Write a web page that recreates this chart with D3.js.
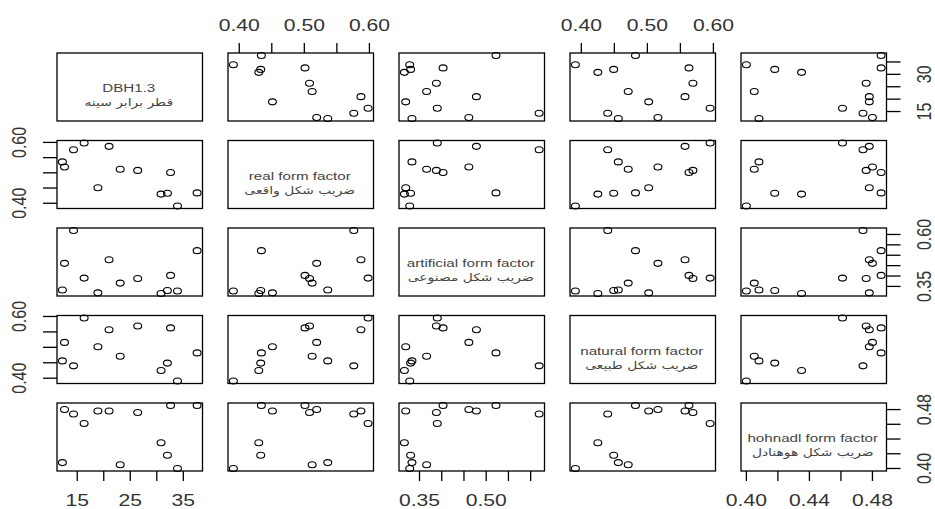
<!DOCTYPE html>
<html>
<head>
<meta charset="utf-8">
<script src="https://cdnjs.cloudflare.com/ajax/libs/d3/7.8.5/d3.min.js"></script>
<style>
  body { margin: 0; background: #fff; }
  text { font-family: "Liberation Sans", Arial, "DejaVu Sans", sans-serif; fill: #333; }
  .diag { fill: #444; }
  .fa { font-family: "DejaVu Sans", sans-serif; fill: #444; }
</style>
</head>
<body>
<div id="chart"></div>
<script>
const dbh        = [12.2, 12.6, 14.3, 16.3, 21.0, 18.9, 23.1, 26.4, 32.6, 30.8, 32.0, 33.9, 37.6];
const realFF     = [0.536, 0.519, 0.576, 0.598, 0.587, 0.451, 0.512, 0.508, 0.501, 0.430, 0.433, 0.391, 0.434];
const artFF      = [0.333, 0.461, 0.619, 0.390, 0.478, 0.319, 0.366, 0.388, 0.403, 0.316, 0.330, 0.328, 0.522];
const naturalFF  = [0.456, 0.516, 0.440, 0.595, 0.557, 0.502, 0.471, 0.569, 0.563, 0.425, 0.449, 0.391, 0.482];
const hohnadlFF  = [0.408, 0.480, 0.474, 0.461, 0.478, 0.478, 0.405, 0.476, 0.4855, 0.435, 0.418, 0.400, 0.4855];

const labelsEn = ['DBH1.3', 'real form factor', 'artificial form factor', 'natural form factor', 'hohnadl form factor'];
const labelsFa = ['قطر برابر سینه', 'ضریب شکل واقعی', 'ضریب شکل مصنوعی', 'ضریب شکل طبیعی', 'ضریب شکل هوهنادل'];

// tick marks and the labels R kept on horizontal / vertical axes
const ticks = [
  [15, 20, 25, 30, 35],
  [0.40, 0.45, 0.50, 0.55, 0.60],
  [0.35, 0.40, 0.45, 0.50, 0.55, 0.60],
  [0.40, 0.45, 0.50, 0.55, 0.60],
  [0.40, 0.42, 0.44, 0.46, 0.48]
];
const hLabels = [[15, 25, 35], [0.40, 0.50, 0.60], [0.35, 0.50], [0.40, 0.50, 0.60], [0.40, 0.44, 0.48]];
const vLabels = [[15, 30], [0.40, 0.60], [0.35, 0.60], [0.40, 0.60], [0.40, 0.48]];
const fmt = [d3.format('d'), d3.format('.2f'), d3.format('.2f'), d3.format('.2f'), d3.format('.2f')];

const series = [dbh, realFF, artFF, naturalFF, hohnadlFF];
const n = series.length;

const width = 935, height = 509;
const gridLeft = 57, gridTop = 53, pw = 145.5, ph = 68, pitchX = 171, pitchY = 87.5;
const SX = 1.32;       // the picture is stretched horizontally
const tickLen = 10, sideTickLen = 14;

const svg = d3.select('#chart').append('svg')
  .attr('width', width)
  .attr('height', height);

svg.append('rect').attr('width', width).attr('height', height).attr('fill', '#fff');

// one x scale per column and one y scale per row, R style 4% padding
const pad = v => {
  const [lo, hi] = d3.extent(v);
  const r = hi - lo;
  return [lo - 0.04 * r, hi + 0.04 * r];
};
const xScales = series.map((v, j) => d3.scaleLinear().domain(pad(v))
  .range([gridLeft + j * pitchX, gridLeft + j * pitchX + pw]));
const yScales = series.map((v, i) => d3.scaleLinear().domain(pad(v))
  .range([gridTop + i * pitchY + ph, gridTop + i * pitchY]));

function hText(g, x, y, str, size, cls) {
  return g.append('text')
    .attr('class', cls || null)
    .attr('transform', `translate(${x},${y}) scale(${SX},1)`)
    .attr('text-anchor', 'middle')
    .attr('dominant-baseline', 'central')
    .attr('font-size', size)
    .text(str);
}

function vText(g, x, y, str, size) {
  return g.append('text')
    .attr('transform', `translate(${x},${y}) scale(${SX},1) rotate(-90)`)
    .attr('text-anchor', 'middle')
    .attr('dominant-baseline', 'central')
    .attr('font-size', size)
    .text(str);
}

const chart = svg.append('g').attr('class', 'pairs');

for (let i = 0; i < n; i++) {
  for (let j = 0; j < n; j++) {
    const x0 = gridLeft + j * pitchX, y0 = gridTop + i * pitchY;
    const panel = chart.append('g').attr('class', `panel-${i}-${j}`);

    if (i === j) {
      hText(panel, x0 + pw / 2 - 1, y0 + ph / 2 + 1.5, labelsEn[i], 11.5, 'diag');
      hText(panel, x0 + pw / 2 - 1, y0 + ph / 2 + 16, labelsFa[i], 10.5, 'fa');
    } else {
      const pts = series[j].map((xv, k) => [xv, series[i][k]]);
      panel.selectAll('ellipse')
        .data(pts)
        .enter()
        .append('ellipse')
        .attr('cx', d => xScales[j](d[0]))
        .attr('cy', d => yScales[i](d[1]))
        .attr('rx', 3.0 * SX)
        .attr('ry', 3.0)
        .attr('fill', 'none')
        .attr('stroke', '#000')
        .attr('stroke-width', 1.1);
    }

    panel.append('rect')
      .attr('x', x0).attr('y', y0)
      .attr('width', pw).attr('height', ph)
      .attr('fill', 'none')
      .attr('stroke', '#000')
      .attr('stroke-width', 1.3);
  }
}

// axes alternate like R's pairs(): top on even columns, bottom on odd, etc.
const axes = svg.append('g').attr('class', 'axes')
  .attr('stroke', '#000').attr('stroke-width', 1.3);

for (let j = 0; j < n; j++) {
  const sc = xScales[j];
  const onTop = j % 2 === 1;
  const yEdge = onTop ? gridTop : gridTop + (n - 1) * pitchY + ph;
  const dir = onTop ? -1 : 1;
  axes.selectAll(null).data(ticks[j]).enter().append('line')
    .attr('x1', d => sc(d)).attr('x2', d => sc(d))
    .attr('y1', yEdge).attr('y2', yEdge + dir * tickLen);
  hLabels[j].forEach(v => {
    hText(svg, sc(v), onTop ? 25 : 500, fmt[j](v), 16);
  });
}

for (let i = 0; i < n; i++) {
  const sc = yScales[i];
  const onLeft = i % 2 === 1;
  const xEdge = onLeft ? gridLeft : gridLeft + (n - 1) * pitchX + pw;
  const dir = onLeft ? -1 : 1;
  axes.selectAll(null).data(ticks[i]).enter().append('line')
    .attr('y1', d => sc(d)).attr('y2', d => sc(d))
    .attr('x1', xEdge).attr('x2', xEdge + dir * sideTickLen);
  vLabels[i].forEach(v => {
    vText(svg, onLeft ? 19 : 924, sc(v), fmt[i](v), 16);
  });
}
</script>
</body>
</html>
